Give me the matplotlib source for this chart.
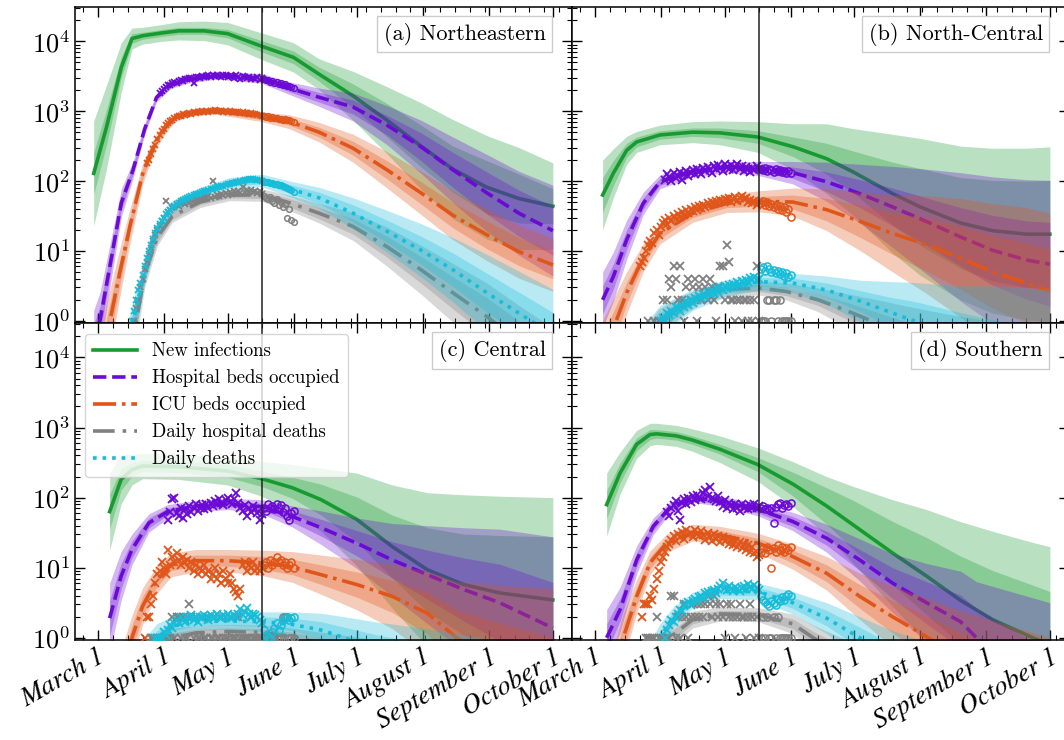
import numpy as np
import matplotlib
matplotlib.use("Agg")
import matplotlib.pyplot as plt
import matplotlib.dates as mdates
from matplotlib.lines import Line2D
from matplotlib.ticker import LogLocator, NullFormatter

nan = np.nan

# model curves: day offset from March 1, log10 of the median, half widths of inner/outer band
# (a) Northeastern
a_inf_day = [-2, 4, 11, 16, 21, 30, 38, 50, 61, 77, 92, 104, 120, 136, 152, 167, 183, 198, 214]
a_inf_log = [2.11, 2.77, 3.63, 4.04, 4.08, 4.12, 4.15, 4.15, 4.11, 3.93, 3.77, 3.53, 3.22, 2.87, 2.50, 2.17, 1.91, 1.75, 1.64]
a_inf_w1 = [0.30, 0.25, 0.15, 0.07, 0.05, 0.05, 0.05, 0.05, 0.06, 0.08, 0.09, 0.10, 0.17, 0.24, 0.30, 0.33, 0.38, 0.35, 0.25]
a_inf_w2 = [0.75, 0.60, 0.35, 0.15, 0.12, 0.12, 0.13, 0.14, 0.16, 0.19, 0.21, 0.22, 0.35, 0.48, 0.62, 0.71, 0.74, 0.73, 0.62]
a_hosp_day = [-2, 1, 6, 11, 16.5, 22, 27.6, 34, 42, 56, 77, 90, 104, 120, 136, 152, 167, 183, 198, 214]
a_hosp_log = [-0.3, 0.01, 0.85, 1.69, 2.16, 2.75, 3.2, 3.37, 3.45, 3.51, 3.47, 3.33, 3.20, 3.06, 2.80, 2.49, 2.16, 1.83, 1.54, 1.29]
a_hosp_w1 = [0.25, 0.2, 0.15, 0.1, 0.06, 0.04, 0.03, 0.03, 0.03, 0.03, 0.04, 0.05, 0.07, 0.1, 0.14, 0.2, 0.25, 0.3, 0.33, 0.35]
a_hosp_w2 = [0.45, 0.4, 0.3, 0.2, 0.12, 0.08, 0.06, 0.05, 0.05, 0.05, 0.07, 0.09, 0.13, 0.2, 0.28, 0.38, 0.47, 0.55, 0.6, 0.65]
a_icu_day = [-2, 3, 6, 10, 15, 21, 24.5, 28, 32, 37, 45, 55, 77, 90, 104, 120, 136, 152, 167, 183, 198, 214]
a_icu_log = [-1.0, -0.4, 0.05, 0.65, 1.35, 2.1, 2.38, 2.6, 2.78, 2.93, 2.99, 3.01, 2.92, 2.85, 2.70, 2.47, 2.16, 1.83, 1.51, 1.23, 0.99, 0.80]
a_icu_w1 = [0.35, 0.3, 0.25, 0.18, 0.12, 0.08, 0.06, 0.05, 0.04, 0.03, 0.03, 0.03, 0.04, 0.05, 0.07, 0.1, 0.13, 0.16, 0.18, 0.2, 0.2, 0.2]
a_icu_w2 = [0.55, 0.5, 0.45, 0.35, 0.25, 0.15, 0.12, 0.1, 0.08, 0.06, 0.05, 0.05, 0.07, 0.1, 0.14, 0.2, 0.26, 0.31, 0.35, 0.37, 0.38, 0.38]
a_hd_day = [14, 18, 22, 28, 35, 48, 62, 77, 90, 104, 120, 136, 152, 167, 183, 198, 214]
a_hd_log = [-0.45, 0.0, 0.68, 1.2, 1.5, 1.7, 1.8, 1.8, 1.69, 1.54, 1.35, 1.06, 0.73, 0.40, 0.06, -0.3, -0.65]
a_hd_w1 = [0.15, 0.15, 0.1, 0.07, 0.05, 0.04, 0.04, 0.05, 0.06, 0.08, 0.11, 0.15, 0.19, 0.23, 0.27, 0.3, 0.32]
a_hd_w2 = [0.3, 0.3, 0.2, 0.12, 0.09, 0.08, 0.08, 0.09, 0.11, 0.14, 0.2, 0.28, 0.35, 0.42, 0.48, 0.52, 0.55]
a_dd_day = [13, 16.6, 22, 27.6, 35, 48, 62, 77, 89, 104, 120, 136, 152, 167, 183, 198, 214]
a_dd_log = [-0.45, 0.0, 0.73, 1.3, 1.63, 1.83, 1.97, 2.01, 1.9, 1.76, 1.54, 1.28, 1.01, 0.73, 0.40, 0.11, -0.2]
a_dd_w1 = [0.15, 0.15, 0.1, 0.07, 0.05, 0.04, 0.04, 0.05, 0.06, 0.08, 0.12, 0.16, 0.2, 0.24, 0.28, 0.3, 0.32]
a_dd_w2 = [0.3, 0.3, 0.2, 0.12, 0.09, 0.08, 0.08, 0.09, 0.11, 0.15, 0.22, 0.3, 0.38, 0.46, 0.55, 0.6, 0.65]

# (b) North-Central
b_inf_day = [3.6, 8.6, 14.9, 19.6, 30.6, 46, 58.8, 76.7, 93.3, 109, 121.5, 140, 153, 172, 187, 203, 214]
b_inf_log = [1.8, 2.11, 2.44, 2.56, 2.66, 2.70, 2.69, 2.63, 2.49, 2.32, 2.13, 1.82, 1.63, 1.40, 1.29, 1.24, 1.24]
b_inf_w1 = [0.25, 0.18, 0.1, 0.07, 0.06, 0.06, 0.07, 0.09, 0.14, 0.22, 0.3, 0.45, 0.55, 0.65, 0.72, 0.76, 0.77]
b_inf_w2 = [0.5, 0.35, 0.2, 0.15, 0.14, 0.15, 0.17, 0.22, 0.33, 0.5, 0.62, 0.85, 0.98, 1.1, 1.18, 1.23, 1.25]
b_hosp_day = [3.6, 8.6, 14.9, 22.7, 30.6, 46, 62, 76.7, 93, 109, 124.6, 140, 156, 172, 187, 203, 214]
b_hosp_log = [0.3, 0.63, 1.16, 1.68, 1.99, 2.14, 2.2, 2.18, 2.12, 1.99, 1.82, 1.63, 1.42, 1.2, 1.01, 0.87, 0.81]
b_hosp_w1 = [0.2, 0.18, 0.14, 0.08, 0.05, 0.04, 0.04, 0.05, 0.08, 0.14, 0.2, 0.27, 0.34, 0.42, 0.5, 0.56, 0.6]
b_hosp_w2 = [0.4, 0.35, 0.28, 0.16, 0.1, 0.08, 0.08, 0.1, 0.16, 0.28, 0.42, 0.58, 0.75, 0.92, 1.05, 1.15, 1.2]
b_icu_day = [3.6, 10, 14.9, 22.7, 30.6, 46, 62, 77, 93, 109, 125, 140, 156, 172, 187, 203, 214]
b_icu_log = [-0.5, 0.0, 0.4, 0.9, 1.25, 1.54, 1.68, 1.71, 1.70, 1.59, 1.42, 1.25, 1.09, 0.9, 0.7, 0.54, 0.42]
b_icu_w1 = [0.3, 0.22, 0.15, 0.1, 0.07, 0.06, 0.06, 0.07, 0.1, 0.16, 0.23, 0.3, 0.38, 0.45, 0.52, 0.58, 0.6]
b_icu_w2 = [0.5, 0.4, 0.3, 0.2, 0.15, 0.13, 0.13, 0.15, 0.2, 0.3, 0.42, 0.55, 0.7, 0.85, 0.98, 1.08, 1.12]
b_hd_day = [20, 30, 40, 50, 62, 77, 90, 105, 118, 130, 145, 165, 185, 214]
b_hd_log = [-0.6, -0.05, 0.2, 0.36, 0.45, 0.47, 0.42, 0.3, 0.15, 0.0, -0.2, -0.45, -0.7, -1.0]
b_hd_w1 = [0.2, 0.12, 0.08, 0.06, 0.05, 0.05, 0.06, 0.08, 0.12, 0.15, 0.2, 0.28, 0.35, 0.45]
b_hd_w2 = [0.35, 0.22, 0.15, 0.11, 0.1, 0.1, 0.12, 0.17, 0.24, 0.32, 0.42, 0.55, 0.7, 0.85]
b_dd_day = [18, 30.6, 46, 62, 77, 93, 109, 125, 140, 150, 170, 190, 214]
b_dd_log = [-0.6, 0.0, 0.3, 0.47, 0.56, 0.54, 0.44, 0.28, 0.11, 0.0, -0.25, -0.5, -0.8]
b_dd_w1 = [0.2, 0.12, 0.08, 0.06, 0.06, 0.07, 0.1, 0.15, 0.22, 0.28, 0.38, 0.5, 0.6]
b_dd_w2 = [0.35, 0.22, 0.15, 0.12, 0.12, 0.14, 0.2, 0.3, 0.45, 0.55, 0.75, 1.0, 1.25]

# (c) Central
c_inf_day = [5.5, 10.9, 16, 21, 37.8, 61, 77, 91.5, 105, 121.7, 138.5, 155, 172, 189, 214]
c_inf_log = [1.8, 2.26, 2.40, 2.45, 2.44, 2.38, 2.27, 2.14, 1.97, 1.69, 1.30, 0.97, 0.76, 0.64, 0.54]
c_inf_w1 = [0.25, 0.15, 0.1, 0.08, 0.08, 0.09, 0.11, 0.15, 0.22, 0.32, 0.45, 0.6, 0.72, 0.82, 0.9]
c_inf_w2 = [0.55, 0.35, 0.22, 0.18, 0.18, 0.2, 0.25, 0.33, 0.45, 0.66, 0.88, 1.1, 1.28, 1.38, 1.46]
c_hosp_day = [5.5, 10.9, 16, 24, 32.7, 46, 61, 77, 91.5, 105, 121.7, 138.5, 155, 172, 189, 214]
c_hosp_log = [0.28, 0.88, 1.26, 1.64, 1.80, 1.88, 1.91, 1.87, 1.73, 1.57, 1.35, 1.11, 0.9, 0.69, 0.50, 0.14]
c_hosp_w1 = [0.25, 0.18, 0.12, 0.07, 0.05, 0.04, 0.04, 0.05, 0.08, 0.12, 0.18, 0.26, 0.35, 0.45, 0.55, 0.65]
c_hosp_w2 = [0.5, 0.35, 0.22, 0.13, 0.1, 0.08, 0.08, 0.1, 0.15, 0.24, 0.36, 0.52, 0.7, 0.88, 1.05, 1.3]
c_icu_day = [5.5, 16, 21, 27.7, 34.4, 46, 61, 77, 91.5, 105, 121.7, 138.5, 155, 168.7, 190, 214]
c_icu_log = [-1.2, 0.0, 0.45, 0.83, 1.04, 1.10, 1.10, 1.07, 1.01, 0.9, 0.76, 0.59, 0.35, 0.0, -0.4, -0.8]
c_icu_w1 = [0.3, 0.18, 0.14, 0.1, 0.08, 0.08, 0.08, 0.09, 0.11, 0.14, 0.18, 0.23, 0.3, 0.4, 0.6, 0.8]
c_icu_w2 = [0.5, 0.32, 0.26, 0.2, 0.17, 0.16, 0.16, 0.18, 0.22, 0.28, 0.36, 0.46, 0.6, 0.8, 1.15, 1.5]
c_hd_day = [25, 35, 46, 61, 77, 91, 105, 120, 150, 214]
c_hd_log = [-0.3, 0.0, 0.07, 0.09, 0.08, 0.02, -0.08, -0.2, -0.45, -1.0]
c_hd_w1 = [0.12, 0.07, 0.05, 0.05, 0.05, 0.06, 0.08, 0.11, 0.18, 0.3]
c_hd_w2 = [0.25, 0.14, 0.1, 0.1, 0.1, 0.12, 0.16, 0.22, 0.35, 0.55]
c_dd_day = [22, 27.7, 35, 46, 61, 77, 91.5, 105, 116, 130, 150, 180, 214]
c_dd_log = [-0.3, 0.0, 0.17, 0.23, 0.24, 0.23, 0.19, 0.11, 0.0, -0.15, -0.35, -0.65, -1.0]
c_dd_w1 = [0.15, 0.1, 0.07, 0.06, 0.06, 0.07, 0.09, 0.12, 0.15, 0.2, 0.28, 0.4, 0.5]
c_dd_w2 = [0.3, 0.2, 0.14, 0.12, 0.12, 0.14, 0.18, 0.24, 0.3, 0.38, 0.5, 0.65, 0.8]

# (d) Southern
d_inf_day = [5.5, 11.8, 19.6, 25.9, 29, 38.4, 46, 58.8, 76.7, 93.3, 109, 121.5, 140, 156, 171.7, 187, 206, 214]
d_inf_log = [1.90, 2.35, 2.76, 2.90, 2.91, 2.88, 2.82, 2.69, 2.47, 2.19, 1.88, 1.61, 1.21, 0.88, 0.54, 0.26, 0.0, -0.1]
d_inf_w1 = [0.2, 0.14, 0.09, 0.07, 0.06, 0.06, 0.06, 0.07, 0.1, 0.17, 0.26, 0.35, 0.45, 0.55, 0.63, 0.7, 0.75, 0.76]
d_inf_w2 = [0.45, 0.3, 0.2, 0.16, 0.15, 0.15, 0.16, 0.19, 0.24, 0.32, 0.42, 0.55, 0.76, 0.95, 1.12, 1.26, 1.36, 1.4]
d_hosp_day = [5.5, 11.8, 19.6, 27.4, 35, 46, 58.8, 76.7, 93, 109, 124.6, 140, 156, 172, 179.5, 214]
d_hosp_log = [0.0, 0.4, 1.11, 1.59, 1.85, 2.0, 1.95, 1.83, 1.66, 1.42, 1.11, 0.78, 0.5, 0.23, 0.0, -0.8]
d_hosp_w1 = [0.2, 0.16, 0.1, 0.06, 0.04, 0.04, 0.04, 0.05, 0.07, 0.1, 0.15, 0.22, 0.3, 0.38, 0.42, 0.6]
d_hosp_w2 = [0.4, 0.32, 0.2, 0.12, 0.08, 0.07, 0.07, 0.09, 0.13, 0.2, 0.3, 0.42, 0.56, 0.72, 0.8, 1.3]
d_icu_day = [5.5, 13.3, 19.6, 25.9, 33.7, 46, 58.8, 76.7, 93, 109, 124.6, 140, 153, 170, 190, 214]
d_icu_log = [-1.0, 0.0, 0.59, 1.07, 1.35, 1.50, 1.47, 1.35, 1.16, 0.92, 0.59, 0.30, 0.07, -0.25, -0.6, -1.0]
d_icu_w1 = [0.3, 0.2, 0.13, 0.09, 0.07, 0.06, 0.06, 0.07, 0.09, 0.12, 0.17, 0.23, 0.28, 0.35, 0.45, 0.55]
d_icu_w2 = [0.5, 0.35, 0.24, 0.17, 0.13, 0.12, 0.12, 0.14, 0.18, 0.24, 0.33, 0.44, 0.53, 0.66, 0.82, 1.0]
d_hd_day = [28, 35, 46, 58.8, 76.7, 93, 102.7, 120, 150, 214]
d_hd_log = [-0.3, 0.0, 0.26, 0.34, 0.33, 0.2, 0.0, -0.3, -0.7, -1.4]
d_hd_w1 = [0.12, 0.08, 0.06, 0.05, 0.05, 0.07, 0.09, 0.13, 0.2, 0.32]
d_hd_w2 = [0.24, 0.16, 0.12, 0.1, 0.1, 0.14, 0.18, 0.25, 0.38, 0.6]
d_dd_day = [25, 30.6, 36.8, 46, 58.8, 76.7, 93, 109, 124.6, 140, 170, 214]
d_dd_log = [-0.4, 0.0, 0.30, 0.54, 0.66, 0.66, 0.5, 0.28, 0.0, -0.3, -0.8, -1.4]
d_dd_w1 = [0.15, 0.1, 0.07, 0.05, 0.05, 0.06, 0.08, 0.11, 0.15, 0.2, 0.3, 0.4]
d_dd_w2 = [0.3, 0.2, 0.14, 0.11, 0.1, 0.12, 0.16, 0.22, 0.3, 0.4, 0.6, 0.8]

# observed data: first day, one value per day (crosses); circles start on NEW_DAY
a_hosp_obs0 = 29
a_hosp_obs = [1800, 1950, 2100, 2250, 2400, 2350, 2550, 2600, 2500, 2750, 2800, 2700, 2900, 2850, 3000, 2950, 2500,
              3050, 3100, 2950, 3200, 3050, 3150, 3300, 3100, 3250, 3150, 3350, 3200, 3100, 3300, 3250, 3050, 3200,
              3150, 3000, 3250, 3100, 2900, 3150, 3050, 2950, 3100, 2850, 3000, 2900, 3050, 2800, 2950]
a_hosp_new = [2900, 2780, 2800, 2650, 2700, 2550, 2600, 2480, 2500, 2400, 2420, 2300, 2280, 2200, 2150]
a_icu_obs0 = 23
a_icu_obs = [180, 200, 240, 290, 330, 400, 450, 520, 560, 640, 680, 720, 760, 800, 820, 860, 850, 900, 880, 920,
             940, 910, 960, 950, 980, 970, 1000, 990, 1010, 980, 1020, 1000, 1030, 1010, 1000, 1020, 990, 1010, 980,
             1000, 970, 990, 960, 980, 950, 960, 930, 950, 920, 930, 900, 910, 880, 890, 850]
a_icu_new = [860, 830, 840, 800, 820, 790, 800, 770, 780, 760, 770, 740, 750, 720, 700]
a_hd_obs0 = 17
a_hd_obs = [1, 1.5, 2, 3, 4, 5.5, 7, 9, 11, 14, 17, 20, 23, 27, 30, 52, 36, 38, 41, 43, 45, 44, 48, 50, 47, 52, 49,
            54, 51, 56, 53, 58, 55, 60, 57, 62, 58, 100, 60, 64, 61, 66, 63, 68, 64, 70, 66, 71, 67, 73, 68, 82, 70,
            74, 69, 75, 70, 73, 68, 71, 66]
a_hd_new = [62, 58, 55, 60, 52, 48, 55, 45, 50, 42, 47, 30, 40, 28, 26]
a_dd_obs0 = 16
a_dd_obs = [1, 1.4, 2, 2.8, 3.5, 4.5, 6, 8, 10, 12, 15, 18, 21, 24, 27, 30, 34, 36, 39, 42, 44, 47, 49, 52, 54, 56,
            58, 60, 61, 63, 65, 66, 68, 70, 71, 73, 75, 76, 78, 80, 81, 83, 85, 86, 88, 90, 91, 93, 95, 96, 98, 99,
            101, 103, 104, 106, 107, 106, 105, 104, 103, 101]
a_dd_new = [98, 96, 97, 93, 94, 90, 91, 87, 88, 84, 82, 80, 78, 75, 70]

b_hosp_obs0 = 33
b_hosp_obs = [105, 125, 115, 100, 130, 110, 120, 135, 105, 125, 140, 118, 130, 145, 125, 150, 135, 128, 155, 140,
              160, 145, 130, 165, 150, 170, 155, 140, 175, 160, 150, 170, 145, 160, 175, 150, 165, 140, 160, 150,
              135, 155, 145, 165, 150]
b_hosp_new = [150, 145, 155, 140, 150, 145, 135, 150, 140, 145, 135, 140, 130, 138, 132]
b_icu_obs0 = 21
b_icu_obs = [6, 7, 8, 10, 12, 14, 13, 18, 20, 17, 22, 25, 28, 24, 30, 27, 32, 29, 34, 31, 36, 33, 38, 35, 40, 37,
             42, 39, 44, 41, 46, 43, 48, 45, 50, 47, 52, 49, 54, 51, 56, 53, 58, 50, 55, 60, 52, 57, 62, 55, 58, 50,
             54, 48, 52, 46, 50]
b_icu_new = [48, 52, 45, 50, 44, 47, 42, 46, 40, 44, 38, 42, 36, 40, 31]
b_hd_obs0 = 25
b_hd_obs = [1, nan, nan, 1, nan, 1, nan, 2, 1, 2, 4, 3, 6, 4, 2, 6, 2, 1, 3, 4, 2, 3, 4, 1, 3, 2, 4, 3, 2, 4, 3, 2,
            1, 3, 6, 6, 2, 12, 7, 2, 2, 1, 2, 2, 1, 2, 2, 1, 2, 1, 2, 6, 1]
b_hd_new = [1, 1, 1, 2, 2, 1, 2, 2, 1, 2, 1, 1, 1, 1, 1]
b_dd_obs0 = 31
b_dd_obs = [1.0, 1.1, 1.0, 1.3, 1.2, 1.4, 1.3, 1.6, 1.5, 1.4, 1.7, 1.6, 1.9, 1.7, 2.0, 1.8, 2.1, 2.0, 2.3, 2.1, 2.4,
            2.2, 2.6, 2.4, 2.7, 2.5, 2.9, 2.6, 3.0, 2.8, 3.1, 2.9, 3.3, 3.0, 3.4, 3.2, 3.6, 3.3, 3.7, 3.4, 3.8, 3.6,
            4.1, 3.8, 4.2, 3.9, 4.0]
b_dd_new = [5.5, 5.8, 5.2, 6.0, 5.6, 5.0, 5.4, 4.8, 5.2, 4.6, 5.0, 4.4, 4.8, 4.3, 4.5]

c_hosp_obs0 = 33
c_hosp_obs = [48, 62, 95, 100, 60, 55, 72, 52, 68, 58, 75, 62, 70, 80, 65, 72, 78, 68, 82, 70, 85, 75, 90, 80, 95,
              85, 78, 92, 100, 88, 80, 95, 118, 85, 72, 65, 78, 55, 70, 62, 75, 68, 60, 48, 58]
c_hosp_new = [72, 65, 80, 70, 75, 68, 82, 70, 78, 62, 72, 55, 48, 60, 65]
c_icu_obs0 = 22
c_icu_obs = [1, 2, 2, 3, 4, 6, 8, 9, 12, 10, 8, 18, 11, 14, 12, 16, 13, 11, 14, 12, 13, 10, 12, 9, 11, 8, 10, 9, 11,
             8, 9, 7, 8, 10, 7, 8, 6, 9, 7, 6, 8, 6, 5, 4.5, 4, 5, 11, 12, 9, 11, 10, 12, 9, 10, 9, 10]
c_icu_new = [11, 12, 10, 13, 11, 12, 14, 12, 13, 11, 12, 10, 11, 12, 10]
c_hd_obs0 = 25
c_hd_obs = [1, 1, nan, 1, 1, 1, 1, 1, 1, 1, 2, 1, 2, 2, 1, 2, 1, 1, 3, 2, 1, 2, 1, 1, 2, 1, 1, 2, 1, 1, 2, 1, 1, 2,
            1, 1, 1, 2, 1, 1, 1, 2, 1, 1, 1, 1, 1, 2, 1, 1, 1, 1, 1]
c_hd_new = [1, 1, 1, 1, 1, 1, 1, 1, 1, 2, 2, 2, 1, 1, 1]
c_dd_obs0 = 27
c_dd_obs = [1, 1, 1, 1, 1.2, 1.1, 1.3, 1.5, 1.4, 1.6, 1.8, 1.6, 2.0, 1.8, 1.7, 2.0, 1.9, 2.1, 1.8, 2.0, 1.7, 2.0,
            1.9, 2.1, 2.0, 1.8, 2.1, 1.9, 2.0, 2.2, 2.0, 1.9, 2.1, 2.0, 2.2, 2.0, 1.9, 2.1, 2.0, 2.2, 2.6, 2.1, 2.3,
            2.7, 2.2, 2.0, 2.2, 2.1, 2.0, 1.8, 1.6]
c_dd_new = [1.3, 1.1, 1.0, 1.0, 1.2, 1.4, 1.6, 1.3, 1.5, 1.8, 1.9, 2.0, 1.8, 1.9, 2.0]

d_hosp_obs0 = 34
d_hosp_obs = [62, 55, 70, 78, 90, 65, 48, 85, 95, 80, 100, 88, 105, 92, 110, 98, 95, 115, 130, 105, 140, 100, 95, 90,
              105, 88, 75, 92, 70, 85, 78, 68, 82, 72, 65, 80, 70, 75, 68, 78, 70, 80, 72, 75]
d_hosp_new = [70, 75, 68, 72, 66, 70, 44, 74, 80, 85, 72, 78, 82, 76, 85]
d_icu_obs0 = 22
d_icu_obs = [2, 3, 3, 3, 4, 3.5, 5, 7, 9, 12, 14, 17, 20, 22, 25, 28, 24, 30, 27, 32, 26, 35, 29, 31, 27, 34, 30, 28,
             33, 29, 25, 31, 27, 24, 30, 26, 28, 23, 27, 24, 26, 22, 25, 21, 24, 20, 23, 19, 22, 18, 21, 17, 20, 16,
             14, 15]
d_icu_new = [17, 19, 16, 20, 18, 10, 19, 17, 21, 18, 20, 17, 19, 18, 20]
d_hd_obs0 = 24
d_hd_obs = [1, 1, 1, 1, 1, 2, 1, 1, 1, 1, 1, 1, 4, 4, 1, 2, 1, 2, 3, 2, 1, 2, 3, 2, 3, 2, 3, 2, 3, 4, 3, 2, 4, 3, 2,
            3, 2, 1, 3, 2, 3, 2, 1, 2, 3, 2, 2, 1, 2, 3, 2, 1, 2, 1]
d_hd_new = [1, 2, 1, 2, 1, 1, 2, 1, 2, 1, 1, 1, 1, 1, 1]
d_dd_obs0 = 33
d_dd_obs = [1.0, 1.3, 1.5, 1.8, 1.7, 2.0, 2.2, 2.5, 2.4, 2.8, 3.0, 3.2, 2.9, 3.4, 3.6, 3.3, 3.8, 4.0, 3.7, 4.3, 4.5,
            4.1, 4.6, 4.8, 4.4, 5.0, 5.4, 6.0, 5.2, 4.8, 5.5, 5.0, 4.7, 5.3, 5.0, 4.6, 5.2, 5.5, 4.9, 5.8, 5.3, 5.0,
            5.6, 5.2, 4.8]
d_dd_new = [4.0, 3.5, 3.2, 3.0, 2.8, 3.4, 3.1, 2.9, 3.6, 3.3, 3.8, 3.5, 4.0, 4.2, 3.9]

TITLES = ['(a) Northeastern', '(b) North-Central', '(c) Central', '(d) Southern']
LABELS = ['New infections', 'Hospital beds occupied', 'ICU beds occupied', 'Daily hospital deaths', 'Daily deaths']
MONTHS = ['March', 'April', 'May', 'June', 'July', 'August', 'September', 'October']
CUT_DAY = 77   # May 17
NEW_DAY = 78

COLOURS = ['#179b30', '#6a0ad4', '#e0561a', '#808080', '#17bcd9']
STYLES = ['-', '--', '-.', (0, (6, 2.2, 1, 2.2)), ':']

plt.rcParams['font.family'] = 'serif'
plt.rcParams['font.serif'] = ['cmr10']
plt.rcParams['mathtext.fontset'] = 'cm'
plt.rcParams['axes.formatter.use_mathtext'] = True
plt.rcParams['axes.unicode_minus'] = False

T0 = mdates.date2num(np.datetime64('2020-03-01'))


def curves_for(p):
    g = globals()
    return [(g[f'{p}_{s}_day'], g[f'{p}_{s}_log'], g[f'{p}_{s}_w1'], g[f'{p}_{s}_w2'])
            for s in ('inf', 'hosp', 'icu', 'hd', 'dd')]


def obs_for(p):
    g = globals()
    return [(g[f'{p}_{s}_obs0'], g[f'{p}_{s}_obs'], g[f'{p}_{s}_new']) for s in ('hosp', 'icu', 'hd', 'dd')]


def draw_panel(ax, p, ms):
    # bands and lines share one zorder so later bands cover earlier lines
    for (day, lg, w1, w2), col, ls in zip(curves_for(p), COLOURS, STYLES):
        x = T0 + np.array(day, float)
        lg, w1, w2 = np.array(lg), np.array(w1), np.array(w2)
        ax.fill_between(x, 10 ** (lg - w2), 10 ** (lg + w2), color=col, alpha=0.3, lw=0, zorder=2)
        ax.fill_between(x, 10 ** (lg - w1), 10 ** (lg + w1), color=col, alpha=0.3, lw=0, zorder=2)
        ax.plot(x, 10 ** lg, color=col, ls=ls, lw=2.6, zorder=2)
    for (start, vals, new), col in zip(obs_for(p), COLOURS[1:]):
        v = np.array(vals, float)
        ax.plot(T0 + start + np.arange(len(v)), v, ls='none', marker='x', ms=ms, mew=1.3, color=col, zorder=3)
        n = np.array(new, float)
        ax.plot(T0 + NEW_DAY + np.arange(len(n)), n, ls='none', marker='o', ms=ms * 0.85, mew=1.1,
                mfc='none', color=col, zorder=3)
    ax.axvline(T0 + CUT_DAY, color='#222222', lw=1.1, zorder=5)


fig = plt.figure(figsize=(10.64, 7.40), dpi=100)
W = 497 / 1064
lefts = [75 / 1064, 572 / 1064]
rows = [(1 - 323 / 740, 316 / 740), (1 - 640 / 740, 317 / 740)]

month_ticks = mdates.date2num([np.datetime64(f'2020-{m:02d}-01') for m in range(3, 11)])
month_labels = [f'{m} 1' for m in MONTHS]

axes = []
for i, p in enumerate('abcd'):
    r, c = divmod(i, 2)
    ax = fig.add_axes([lefts[c], rows[r][0], W, rows[r][1]])
    axes.append(ax)
    ax.set_yscale('log')
    draw_panel(ax, p, 4.8 if p == 'a' else 6)
    ax.set_xlim(T0 - 10.8, T0 + 223)
    ax.set_ylim(0.93, 3.1e4)
    ax.yaxis.set_major_locator(LogLocator(base=10, numticks=10))
    ax.yaxis.set_minor_locator(LogLocator(base=10, subs=np.arange(2, 10), numticks=20))
    ax.yaxis.set_minor_formatter(NullFormatter())
    ax.set_xticks(month_ticks)
    ax.xaxis.set_minor_locator(mdates.WeekdayLocator(byweekday=mdates.SU))
    ax.tick_params(which='both', direction='in', top=True, right=True)
    ax.tick_params(which='major', length=7, width=1.0, labelsize=19)
    ax.tick_params(which='minor', length=3.5, width=0.8)
    for s in ax.spines.values():
        s.set_linewidth(1.1)
    if r == 1:
        ax.set_xticklabels(month_labels, rotation=30, ha='right', rotation_mode='anchor',
                           fontstyle='italic', family='STIXGeneral', fontsize=19.5)
    else:
        ax.tick_params(labelbottom=False)
    if c == 1:
        ax.tick_params(labelleft=False)
    ax.text(0.947, 0.95, TITLES[i], transform=ax.transAxes, ha='right', va='top', fontsize=16, zorder=10,
            bbox=dict(boxstyle='square,pad=0.3', fc='white', ec='#cccccc', lw=1.0))

handles = [Line2D([], [], color=col, ls=ls, lw=2.6) for col, ls in zip(COLOURS, STYLES)]
leg = axes[2].legend(handles, LABELS, loc='upper left', bbox_to_anchor=(0.02, 0.965), borderaxespad=0,
                     fontsize=13.5, handlelength=2.3, handletextpad=0.8, labelspacing=0.48,
                     borderpad=0.45, framealpha=0.8, edgecolor='#cccccc')
leg.set_zorder(20)

fig.savefig('out.png', dpi=100)
